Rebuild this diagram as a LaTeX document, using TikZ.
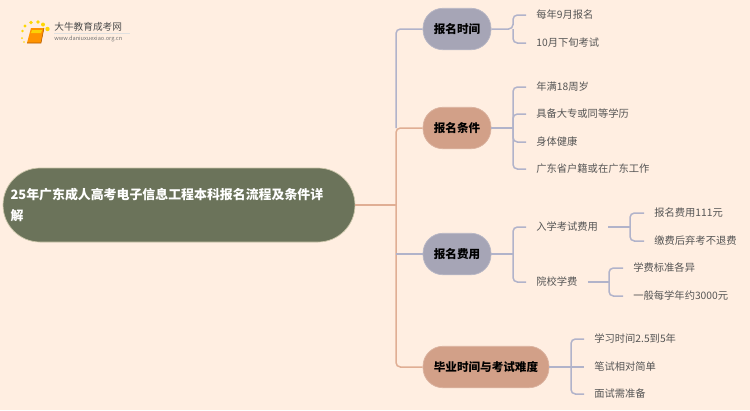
\documentclass[tikz,border=0pt]{standalone}
\usepackage{fontspec}
\setmainfont{Noto Sans CJK SC}
\tikzset{
	rootbox/.style={fill=rootgreen, draw=rootedge, line width=0.4pt, rounded corners=0.74cm, text=white, font=\fontsize{7.35}{11.4}\selectfont\bfseries, minimum width=7.04cm, minimum height=1.48cm, text width=6.74cm, inner xsep=0.15cm, align=left},
	branchbox/.style={draw=#1!80!white, fill=#1, line width=0.4pt, rounded corners=0.4cm, text=black, font=\fontsize{6.6}{8}\selectfont\bfseries, minimum height=0.83cm, inner xsep=0, inner ysep=0},
	leafbox/.style={text=leafgray, font=\fontsize{5.85}{7}\selectfont, inner xsep=0.2cm, inner ysep=0, anchor=west},
	bluearm/.style={draw=armblue, line width=0.85pt, rounded corners=2.5pt},
	salmonarm/.style={draw=armsalmon, line width=0.85pt, rounded corners=2.5pt}
}
\definecolor{paper}{HTML}{FFEEE1}
\definecolor{rootgreen}{HTML}{6B735A}
\definecolor{rootedge}{HTML}{C9C4A8}
\definecolor{nodeblue}{HTML}{A6A5B6}
\definecolor{nodesalmon}{HTML}{D2A088}
\definecolor{armblue}{HTML}{B1B3CA}
\definecolor{armsalmon}{HTML}{E0AE94}
\definecolor{leafgray}{HTML}{555555}
\begin{document}
\begin{tikzpicture}[x=0.02cm, y=-0.02cm]
	\fill[paper] (0,0) rectangle (750,410);
	% logo
	\fill[orange!85!yellow] (31,28) -- (44,28) -- (41,43) -- (27,43) -- cycle;
	\fill[yellow!70!orange] (32,30) -- (42,30) -- (41,33) -- (31,33) -- cycle;
	\draw[orange!70!black, line width=0.3pt] (27,43) -- (41,43) -- (44,28);
	\foreach \dotx/\doty/\dotr in {25/26/1.6, 31/22.5/1.8, 38/22/1.8, 43/24.5/2, 47.5/29/2.2, 22.5/31/1.3, 22/38/1, 24/42/0.8}
		\fill[yellow!75!orange] (\dotx,\doty) circle (\dotr);
	\node[anchor=west, inner sep=0, text=black!70, font=\fontsize{5.5}{6}\selectfont] (logotitle) at (54,27) {大牛教育成考网};
	\node[anchor=west, inner sep=0, text=black!55, font=\fontsize{3.2}{4}\selectfont] (logourl) at (54,38.5) {www.daniuxuexiao.org.cn};
	\draw[black!12, line width=0.4pt] (54,33) -- (130,33);
	% main nodes
	\node[rootbox] (root) at (179,205) {25年广东成人高考电子信息工程本科报名流程及条件详\\解};
	\node[branchbox=nodeblue, minimum width=1.36cm] (time) at (457,29) {报名时间};
	\node[branchbox=nodesalmon, minimum width=1.36cm] (cond) at (457,128) {报名条件};
	\node[branchbox=nodeblue, minimum width=1.36cm] (fee) at (457,254) {报名费用};
	\node[branchbox=nodesalmon, minimum width=2.52cm] (grad) at (486,367) {毕业时间与考试难度};
	% leaves
	\node[leafbox] (time1) at (526,15) {每年9月报名};
	\node[leafbox] (time2) at (526,43) {10月下旬考试};
	\node[leafbox] (cond1) at (526,87) {年满18周岁};
	\node[leafbox] (cond2) at (526,114) {具备大专或同等学历};
	\node[leafbox] (cond3) at (526,142) {身体健康};
	\node[leafbox] (cond4) at (526,169) {广东省户籍或在广东工作};
	\node[leafbox] (exam) at (526,227) {入学考试费用};
	\node[leafbox] (school) at (526,282) {院校学费};
	\node[leafbox] (exam1) at (644,213) {报名费用111元};
	\node[leafbox] (exam2) at (644,241) {缴费后弃考不退费};
	\node[leafbox] (school1) at (623,268) {学费标准各异};
	\node[leafbox] (school2) at (623,296) {一般每学年约3000元};
	\node[leafbox] (grad1) at (584,339) {学习时间2.5到5年};
	\node[leafbox] (grad2) at (584,367) {笔试相对简单};
	\node[leafbox] (grad3) at (584,394) {面试需准备};
	% forks
	\coordinate (trunk) at (396,205);
	\coordinate (trunkcond) at (396,128);
	\coordinate (forktime) at (513,29);
	\coordinate (forkcond) at (513,128);
	\coordinate (forkfee) at (513,254);
	\coordinate (forkexam) at (630,227);
	\coordinate (forkschool) at (609,282);
	\coordinate (forkgrad) at (571,367);
	% trunk
	\draw[bluearm] (trunkcond) |- (time.west);
	\draw[salmonarm] (root.east) -- (trunk);
	\draw[salmonarm] (trunk) |- (cond.west);
	\draw[salmonarm] (trunk) |- (grad.west);
	\draw[bluearm] (trunk |- fee.west) -- (fee.west);
	% arms
	\draw[bluearm] (time.east) -- (forktime) |- (time1.west);
	\draw[bluearm] (forktime) |- (time2.west);
	\draw[bluearm] (cond.east) -- (forkcond);
	\draw[bluearm] (forkcond) |- (cond1.west);
	\draw[bluearm] (forkcond) |- (cond2.west);
	\draw[bluearm] (forkcond) |- (cond3.west);
	\draw[bluearm] (forkcond) |- (cond4.west);
	\draw[bluearm] (fee.east) -- (forkfee);
	\draw[bluearm] (forkfee) |- (exam.west);
	\draw[bluearm] (forkfee) |- (school.west);
	\draw[bluearm] (exam.east) -- (forkexam);
	\draw[bluearm] (forkexam) |- (exam1.west);
	\draw[bluearm] (forkexam) |- (exam2.west);
	\draw[bluearm] (school.east) -- (forkschool);
	\draw[bluearm] (forkschool) |- (school1.west);
	\draw[bluearm] (forkschool) |- (school2.west);
	\draw[bluearm] (grad.east) -- (forkgrad);
	\draw[bluearm] (forkgrad) |- (grad1.west);
	\draw[bluearm] (forkgrad) -- (grad2.west);
	\draw[bluearm] (forkgrad) |- (grad3.west);
\end{tikzpicture}
\end{document}
